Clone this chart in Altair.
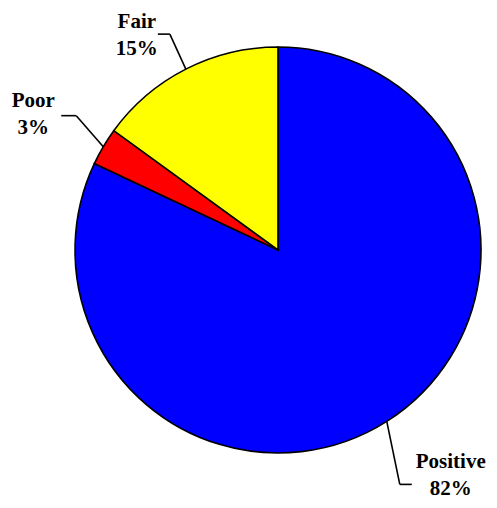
import math
import altair as alt
import pandas as pd

# ---- data ----
categories = ["Positive", "Poor", "Fair"]
percent = [82, 3, 15]
colors = ["#0000FF", "#FF0000", "#FFFF00"]

# ---- layout (annotation geometry, not data) ----
W, H = 481, 492
CX, CY, R = 270, 242, 203
# elbow offset from the slice's outer mid point, horizontal run, text centre offset
leader_dx = [13, -27, -16]
leader_dy = [63, -31, -35]
leader_run = [12, -15, -12]
text_dx = [39, -28, -21]
text_dy = [-22, -15, -12]

total = sum(percent)
rows, segs, texts = [], [], []
cum = 0
for i, (c, p) in enumerate(zip(categories, percent)):
    rows.append({"cat": c, "value": p, "order": i})
    mid = (cum + p / 2) / total * 2 * math.pi
    cum += p
    ex = CX + R * math.sin(mid)
    ey = CY - R * math.cos(mid)
    bx = ex + leader_dx[i]
    by = ey + leader_dy[i]
    hx = bx + leader_run[i]
    segs.append({"x": ex, "y": ey, "x2": bx, "y2": by})
    segs.append({"x": bx, "y": by, "x2": hx, "y2": by})
    texts.append({"x": hx + text_dx[i], "y": by + text_dy[i],
                  "label": f"{c}\n{round(p / total * 100)}%"})

pie_df = pd.DataFrame(rows)
seg_df = pd.DataFrame(segs)
txt_df = pd.DataFrame(texts)

xs = alt.Scale(domain=[0, W], range=[0, W], nice=False, zero=False)
ys = alt.Scale(domain=[0, H], range=[0, H], nice=False, zero=False)

pie = alt.Chart(pie_df).mark_arc(
    outerRadius=R, stroke="black", strokeWidth=1.6
).encode(
    theta=alt.Theta("value:Q", stack=True),
    order=alt.Order("order:Q"),
    color=alt.Color("cat:N", scale=alt.Scale(domain=categories, range=colors), legend=None),
    x=alt.value(CX),
    y=alt.value(CY),
)

lines = alt.Chart(seg_df).mark_rule(color="black", strokeWidth=1.6).encode(
    x=alt.X("x:Q", scale=xs, axis=None),
    y=alt.Y("y:Q", scale=ys, axis=None),
    x2="x2:Q",
    y2="y2:Q",
)

labels = alt.Chart(txt_df).mark_text(
    font="Liberation Serif", fontWeight="bold", fontSize=21,
    align="center", baseline="middle", lineBreak="\n", lineHeight=27, color="black"
).encode(
    x=alt.X("x:Q", scale=xs, axis=None),
    y=alt.Y("y:Q", scale=ys, axis=None),
    text="label:N",
)

chart = alt.layer(pie, lines, labels).properties(
    width=W, height=H, padding=0, autosize=alt.AutoSizeParams(type="none")
).configure_view(stroke=None)

chart.save("out.html", embed_options={"renderer": "svg", "actions": False})
